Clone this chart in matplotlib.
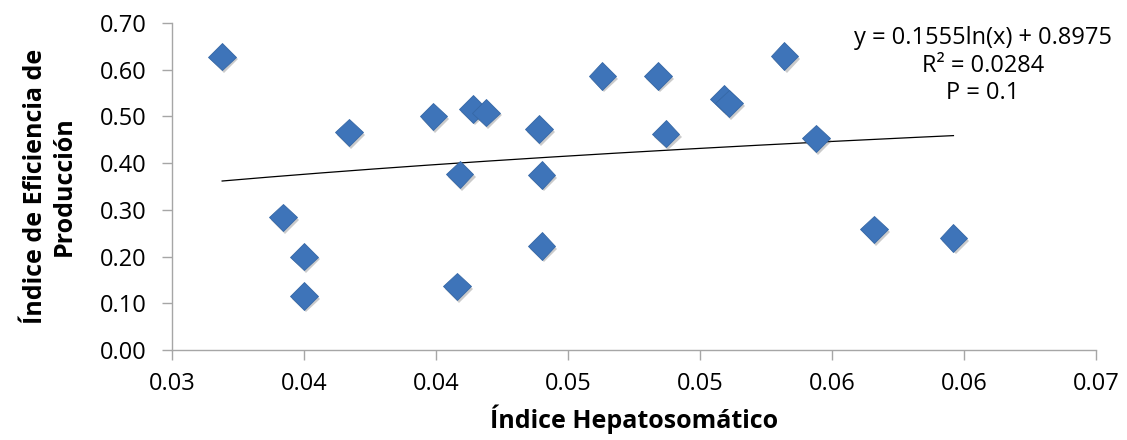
import numpy as np
import matplotlib.pyplot as plt
import matplotlib.patheffects as pe

plt.rcParams['font.family'] = ['Open Sans', 'DejaVu Sans']

# Hepatosomatic index vs production efficiency index
ihs = [0.0319, 0.0367, 0.0342, 0.0350, 0.0350, 0.0399, 0.0414, 0.0419,
       0.0439, 0.0409, 0.0440, 0.0440, 0.0408, 0.0463, 0.0484, 0.0487,
       0.0509, 0.0511, 0.0532, 0.0544, 0.0566, 0.0596]
iep = [0.628, 0.466, 0.284, 0.200, 0.116, 0.500, 0.516, 0.508,
       0.473, 0.376, 0.375, 0.223, 0.136, 0.587, 0.587, 0.463,
       0.538, 0.528, 0.629, 0.453, 0.258, 0.240]

# logarithmic trendline as printed on the chart
coef_a = 0.1555
coef_b = 0.8975

x_ticks = [0.030, 0.035, 0.040, 0.045, 0.050, 0.055, 0.060, 0.065]
x_tick_labels = ['0.03', '0.04', '0.04', '0.05', '0.05', '0.06', '0.06', '0.07']
y_ticks = [0.0, 0.1, 0.2, 0.3, 0.4, 0.5, 0.6, 0.7]

fig = plt.figure(figsize=(11.27, 4.40), dpi=100)
ax = fig.add_axes([0.1526, 0.2045, 0.8199, 0.7432])

# trendline over the data range
xt = np.linspace(min(ihs), max(ihs), 200)
ax.plot(xt, coef_a * np.log(xt) + coef_b, color='black', lw=0.9, zorder=2)

ax.plot(ihs, iep, linestyle='none', marker='D', markersize=14,
        markerfacecolor='#3E74B9', markeredgecolor='#3668A6', markeredgewidth=0.6,
        zorder=3,
        path_effects=[pe.SimplePatchShadow(offset=(1.5, -2), alpha=0.3, shadow_rgbFace='#555555'),
                      pe.Normal()])

ax.set_xlim(0.030, 0.065)
ax.set_ylim(0.0, 0.70)
ax.set_xticks(x_ticks)
ax.set_xticklabels(x_tick_labels)
ax.set_yticks(y_ticks)
ax.set_yticklabels(['%.2f' % v for v in y_ticks])

for s in ['top', 'right']:
    ax.spines[s].set_visible(False)
for s in ['left', 'bottom']:
    ax.spines[s].set_color('#A6A6A6')
    ax.spines[s].set_linewidth(1.0)
ax.tick_params(axis='both', direction='out', length=7, width=1.0, color='#A6A6A6',
               labelsize=17, labelcolor='black')
ax.tick_params(axis='x', pad=9)
ax.tick_params(axis='y', pad=11)

ax.set_xlabel('Índice Hepatosomático', fontsize=18, fontweight='bold', labelpad=6)
ax.set_ylabel('Índice de Eficiencia de\nProducción', fontsize=18, fontweight='bold',
              labelpad=17, linespacing=1.2)

ax.text(0.8773, 0.99, 'y = 0.1555ln(x) + 0.8975\nR² = 0.0284\nP = 0.1',
        transform=ax.transAxes, ha='center', va='top', fontsize=17, linespacing=1.2)

fig.savefig('out.png', dpi=100)
